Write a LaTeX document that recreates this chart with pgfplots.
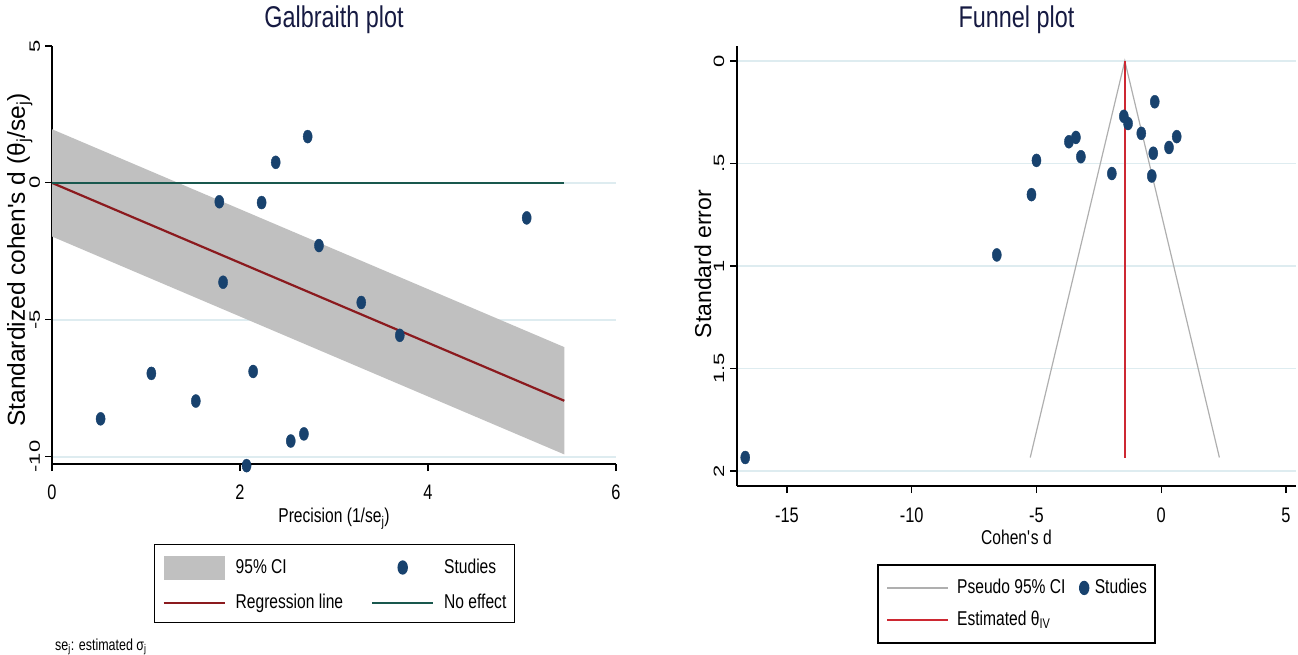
\documentclass[border=0pt]{standalone}
\usepackage{fontspec}
\setmainfont{Liberation Sans}[FakeStretch=0.78]
\newfontfamily\widefont{Liberation Sans}
\usepackage{pgfplots}
\usepackage{pgfplotstable}
\pgfplotsset{compat=1.18}
\definecolor{navydot}{RGB}{24,66,110}
\definecolor{cigray}{RGB}{192,192,192}
\definecolor{regred}{RGB}{139,26,30}
\definecolor{noeff}{RGB}{25,88,78}
\definecolor{funred}{RGB}{205,40,50}
\definecolor{fungray}{RGB}{175,175,175}
\definecolor{gridcol}{RGB}{222,236,240}
\definecolor{titcol}{RGB}{22,26,66}
\newcommand\tickfont{\fontsize{21bp}{25bp}\selectfont}
\newcommand\ytickfont{\widefont\fontsize{22bp}{26bp}\selectfont}
\newcommand\labfont{\fontsize{20bp}{24bp}\selectfont}
\newcommand\ylabfont{\widefont\fontsize{23bp}{27bp}\selectfont}
\newcommand\ylabfontL{\widefont\fontsize{24.5bp}{28bp}\selectfont}
\newcommand\titfont{\fontsize{30bp}{34bp}\selectfont}
\newcommand\legfont{\fontsize{20bp}{24bp}\selectfont}
\newcommand\notefont{\fontsize{16bp}{19bp}\selectfont}
\newcommand\ysc[1]{\scalebox{1}[0.68]{#1}}

\pgfplotstableread{
x y
0.517 -8.62
1.057 -6.96
1.53 -7.97
1.78 -0.69
1.82 -3.63
2.07 -10.33
2.14 -6.89
2.23 -0.72
2.38 0.75
2.54 -9.43
2.68 -9.17
2.72 1.69
2.84 -2.29
3.29 -4.37
3.70 -5.57
5.05 -1.28
}\galdata

\pgfplotstableread{
d se
-16.67 1.934
-6.59 0.946
-5.20 0.652
-5.00 0.485
-3.70 0.394
-3.42 0.373
-3.22 0.467
-1.98 0.549
-1.50 0.270
-1.33 0.305
-0.80 0.353
-0.26 0.199
-0.32 0.450
-0.38 0.561
0.31 0.422
0.62 0.369
}\fundata

\pgfplotsset{
  stataaxis/.style={
    clip=false,
    scale only axis,
    axis x line=bottom, axis y line=left,
    every outer x axis line/.append style={-},
    every outer y axis line/.append style={-},
    axis line style={black, line width=1.4bp, -},
    ymajorgrids, grid style={gridcol, line width=1.8bp},
    tick align=outside, major tick length=7bp,
    tick style={black, line width=1.2bp},
    xticklabel style={font=\tickfont, inner sep=0pt, anchor=north},
    yticklabel style={font=\ytickfont, inner sep=0pt, anchor=base, rotate=90},
    xlabel style={font=\labfont, anchor=base},
    ylabel style={font=\ylabfont, anchor=base},
    title style={font=\titfont, text=titcol, anchor=base},
    legend cell align=left,
  },
  legline/.style={legend image code/.code={\draw[##1] (0bp,0bp) -- (61bp,0bp);}},
  legarea/.style={legend image code/.code={\fill[##1] (0bp,-12bp) rectangle (61bp,12bp);}},
  legdotwide/.style={legend image code/.code={\path (0bp,0bp) (61bp,0bp); \draw[mark repeat=2, mark phase=2, ##1] plot coordinates {(0bp,0bp) (30.5bp,0bp) (61bp,0bp)};}},
  legdotnarrow/.style={legend image code/.code={\path (0bp,0bp) (16bp,0bp); \draw[mark repeat=2, mark phase=2, ##1] plot coordinates {(0bp,0bp) (8bp,0bp) (16bp,0bp)};}},
}

\begin{document}
\begin{tikzpicture}
% ---------------- Galbraith plot ----------------
\begin{axis}[
  stataaxis,
  at={(52bp,191bp)}, anchor=south west,
  width=564bp, height=418bp,
  xmin=0, xmax=6, ymin=-10.27, ymax=5,
  xtick={0,2,4,6}, xticklabels={0,2,4,6},
  ytick={-10,-5,0}, yticklabels={\ysc{-10},\ysc{-5},\ysc{0}},
  extra y ticks={5}, extra y tick labels={\ysc{5}},
  extra y tick style={grid=none},
  xticklabel style={yshift=-14bp},
  yticklabel style={yshift=5bp},
  xlabel={Precision (1/se\textsubscript{j})},
  xlabel style={at={(axis description cs:0.5,-0.1411)}},
  ylabel={Standardized cohen\textquotesingle s d (θ\textsubscript{j}/se\textsubscript{j})},
  ylabel style={font=\ylabfontL, at={(axis description cs:-0.0479,0.488)}},
  title={Galbraith plot},
  title style={at={(axis description cs:0.5,1.031)}},
  legend columns=2,
  legend style={at={(axis description cs:0.5009,-0.2859)}, anchor=center,
    draw=black, line width=1.3bp, inner xsep=8bp, inner ysep=11bp,
    row sep=14bp, font=\legfont,
    nodes={inner sep=0pt, text height=14.5bp, text depth=3.5bp},
    /tikz/column 1/.style={column sep=10bp},
    /tikz/column 2/.style={column sep=28bp},
    /tikz/column 3/.style={column sep=10bp}},
]
\addplot[fill=cigray, draw=none, forget plot] coordinates {(0,1.96) (5.45,-6.00) (5.45,-9.92) (0,-1.96) (0,1.96)};
\addplot[regred, line width=2.2bp, forget plot] coordinates {(0,0) (5.45,-7.96)};
\addplot[noeff, line width=2.4bp, forget plot] coordinates {(0,0) (5.45,0)};
\addplot[only marks, mark=*, mark size=6.5bp, color=navydot, mark options={xscale=0.7}, forget plot] table[x=x, y=y] {\galdata};

\addlegendimage{legarea, fill=cigray, draw=none}
\addlegendentry{95\% CI}
\addlegendimage{legdotwide, only marks, mark=*, mark size=6.5bp, color=navydot, mark options={xscale=0.7}}
\addlegendentry{Studies}
\addlegendimage{legline, regred, line width=2bp}
\addlegendentry{Regression line}
\addlegendimage{legline, noeff, line width=2bp}
\addlegendentry{No effect}

\node[anchor=base west, font=\notefont, inner sep=0pt] at (axis description cs:0.0053,-0.445) {se\textsubscript{j}: estimated σ\textsubscript{j}};
\end{axis}

% ---------------- Funnel plot ----------------
\begin{axis}[
  stataaxis,
  at={(737bp,169bp)}, anchor=south west,
  width=559bp, height=440bp,
  xmin=-17, xmax=5.4, ymin=-2.073, ymax=0.073,
  xtick={-15,-10,-5,0,5}, xticklabels={-15,-10,-5,0,5},
  ytick={-2,-1.5,-1,-0.5,0}, yticklabels={\ysc{2},\ysc{1.5},\ysc{1},\ysc{.5},\ysc{0}},
  xticklabel style={yshift=-15bp},
  yticklabel style={yshift=6bp},
  xlabel={Cohen\textquotesingle s d},
  xlabel style={at={(axis description cs:0.5,-0.134)}},
  ylabel={Standard error},
  ylabel style={at={(axis description cs:-0.0465,0.5045)}},
  title={Funnel plot},
  title style={at={(axis description cs:0.5,1.0295)}},
  legend columns=2,
  legend style={at={(axis description cs:0.5,-0.268)}, anchor=center,
    draw=black, line width=1.3bp, inner xsep=8bp, inner ysep=14bp,
    row sep=14bp, font=\legfont,
    nodes={inner sep=0pt, text height=14.5bp, text depth=3.5bp},
    /tikz/column 1/.style={column sep=8bp},
    /tikz/column 2/.style={column sep=10bp},
    /tikz/column 3/.style={column sep=2bp}},
]
\addplot[fungray, line width=1.2bp, forget plot] coordinates {(-5.25,-1.934) (-1.46,0) (2.33,-1.934)};
\addplot[funred, line width=2bp, forget plot] coordinates {(-1.46,0) (-1.46,-1.934)};
\addplot[only marks, mark=*, mark size=6.5bp, color=navydot, mark options={xscale=0.7}, forget plot] table[x=d, y expr=-\thisrow{se}] {\fundata};

\addlegendimage{legline, fungray, line width=1.5bp}
\addlegendentry{Pseudo 95\% CI}
\addlegendimage{legdotnarrow, only marks, mark=*, mark size=6.5bp, color=navydot, mark options={xscale=0.7}}
\addlegendentry{Studies}
\addlegendimage{legline, funred, line width=2bp}
\addlegendentry{Estimated θ\textsubscript{IV}}
\end{axis}

\pgfresetboundingbox
\useasboundingbox (0,0) rectangle (1298bp,655bp);
\end{tikzpicture}
\end{document}
